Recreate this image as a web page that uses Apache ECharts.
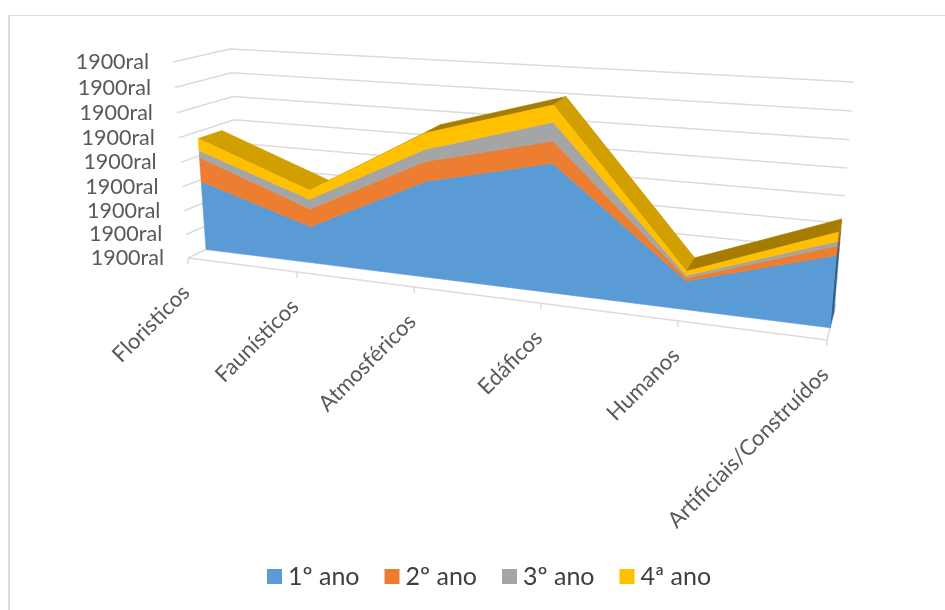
<!DOCTYPE html>
<html>
<head>
<meta charset="utf-8">
<style>html,body{margin:0;padding:0;background:#fff}#chart{width:945px;height:610px}</style>
<script src="https://cdn.jsdelivr.net/npm/echarts@6/dist/echarts.min.js"></script>
</head>
<body>
<div id="chart"></div>
<script>
// Stacked 3D-look area chart: a custom series projects grid coordinates onto a perspective box.
const categories = ['Floristicos', 'Faunísticos', 'Atmosféricos', 'Edáficos', 'Humanos', 'Artificiais/Construídos'];
const seriesNames = ['1º ano', '2º ano', '3º ano', '4ª ano'];
const ano1 = [2.92, 1.52, 3.82, 4.95, 1.08, 2.60];
const ano2 = [1.01, 0.73, 0.77, 0.81, 0.11, 0.34];
const ano3 = [0.29, 0.40, 0.47, 0.69, 0.09, 0.16];
const ano4 = [0.50, 0.36, 0.62, 0.62, 0.16, 0.32];
const valueTickLabels = ['1900ral', '1900ral', '1900ral', '1900ral', '1900ral', '1900ral', '1900ral', '1900ral', '1900ral'];

const seriesValues = [ano1, ano2, ano3, ano4];
const colors = ['#5B9BD5', '#ED7D31', '#A5A5A5', '#FFC000'];
const sideColors = ['#2F5F8A', '#A8561F', '#737373', '#A67C00'];
const surfaceFalling = '#D1A000';
const surfaceRising = '#A67C00';
const gridColor = '#DBDBDB';
const labelColor = '#595959';
const fontFamily = 'Lato, "Open Sans", sans-serif';

// Running totals per category: stacks[k][i] is the top of band k-1 and the bottom of band k.
const stacks = [categories.map(() => 0)];
seriesValues.forEach((vals, k) => stacks.push(vals.map((v, i) => stacks[k][i] + v)));

const lastCat = categories.length - 1;
const maxLevel = valueTickLabels.length - 1;

// Perspective box: the front and back planes given by corners bottom-left, bottom-right, top-right, top-left.
const frontPlane = makeHomography([188, 258], [827, 340], [848, 104], [173, 62]);
const backPlane = makeHomography([241, 233], [836, 304], [854, 82], [230, 49]);
const faceDepth = 0.34;
const rearDepth = 0.77;

function makeHomography(p0, p1, p2, p3) {
  const dx1 = p1[0] - p2[0], dx2 = p3[0] - p2[0], sx = p0[0] - p1[0] + p2[0] - p3[0];
  const dy1 = p1[1] - p2[1], dy2 = p3[1] - p2[1], sy = p0[1] - p1[1] + p2[1] - p3[1];
  const den = dx1 * dy2 - dx2 * dy1;
  const g = (sx * dy2 - dx2 * sy) / den;
  const h = (dx1 * sy - sx * dy1) / den;
  const a = p1[0] - p0[0] + g * p1[0], b = p3[0] - p0[0] + h * p3[0];
  const d = p1[1] - p0[1] + g * p1[1], e = p3[1] - p0[1] + h * p3[1];
  return (s, t) => {
    const w = g * s + h * t + 1;
    return [(a * s + b * t + p0[0]) / w, (d * s + e * t + p0[1]) / w];
  };
}

// Takes a category index and a value through the grid's scales, then onto the box at a given depth.
function projector(api) {
  const origin = api.coord([0, 0]);
  const corner = api.coord([lastCat, maxLevel]);
  return (cat, value, depth) => {
    const c = api.coord([cat, value]);
    const s = (c[0] - origin[0]) / (corner[0] - origin[0]);
    const t = (c[1] - origin[1]) / (corner[1] - origin[1]);
    const f = frontPlane(s, t), b = backPlane(s, t);
    return [f[0] + (b[0] - f[0]) * depth, f[1] + (b[1] - f[1]) * depth];
  };
}

function poly(points, color) {
  return { type: 'polygon', shape: { points }, style: { fill: color, stroke: color, lineWidth: 0.6 } };
}

function gridLine(points, width) {
  return { type: 'polyline', shape: { points }, style: { fill: 'none', stroke: gridColor, lineWidth: width || 1.5 } };
}

// Walls, floor edge, ticks and axis labels.
function renderFrame(params, api) {
  const p = projector(api);
  const children = [];
  valueTickLabels.forEach((label, level) => {
    const start = p(0, level, 0);
    children.push(gridLine([start, p(0, level, 1), p(lastCat, level, 1)]));
    children.push({
      type: 'text', x: start[0] - 24, y: start[1],
      style: { text: label, align: 'right', verticalAlign: 'middle', fill: labelColor, fontSize: 21.5, fontFamily }
    });
  });
  children.push(gridLine([p(0, 0, 0), p(lastCat, 0, 0)]));
  children.push(gridLine([p(lastCat, 0, 0), p(lastCat, 0, 1)]));
  categories.forEach((name, i) => {
    const tick = p(i, 0, 0);
    children.push(gridLine([tick, [tick[0], tick[1] + 6]]));
    children.push({
      type: 'text', x: tick[0] - 2, y: tick[1] + 31, rotation: Math.PI / 4,
      style: { text: name, align: 'right', verticalAlign: 'middle', fill: labelColor, fontSize: 22, fontFamily }
    });
  });
  return { type: 'group', children };
}

// Top surface of the stack and the right-hand end faces, drawn before the front faces.
function renderDepth(params, api) {
  const p = projector(api);
  const children = [];
  const top = stacks[seriesValues.length];
  for (let i = 0; i < lastCat; i++) {
    const color = top[i + 1] > top[i] ? surfaceRising : surfaceFalling;
    children.push(poly([p(i, top[i], faceDepth), p(i + 1, top[i + 1], faceDepth), p(i + 1, top[i + 1], rearDepth), p(i, top[i], rearDepth)], color));
  }
  seriesValues.forEach((vals, k) => {
    const lo = stacks[k][lastCat], hi = stacks[k + 1][lastCat];
    children.push(poly([p(lastCat, lo, faceDepth), p(lastCat, hi, faceDepth), p(lastCat, hi, rearDepth), p(lastCat, lo, rearDepth)], sideColors[k]));
  });
  return { type: 'group', children };
}

// One front-face band of a stacked series, as a single closed outline.
function renderBand(k) {
  return (params, api) => {
    const p = projector(api);
    const upper = categories.map((_, i) => p(i, stacks[k + 1][i], faceDepth));
    const lower = categories.map((_, i) => p(i, stacks[k][i], faceDepth)).reverse();
    return poly(upper.concat(lower), colors[k]);
  };
}

const chart = echarts.init(document.getElementById('chart'), null, { renderer: 'canvas' });
chart.setOption({
  animation: false,
  backgroundColor: '#fff',
  color: colors,
  grid: { left: 0, right: 0, top: 0, bottom: 0 },
  xAxis: { type: 'category', data: categories, boundaryGap: false, show: false },
  yAxis: { type: 'value', min: 0, max: maxLevel, interval: 1, show: false },
  legend: {
    data: seriesNames, left: 262, top: 559, itemWidth: 15, itemHeight: 15, itemGap: 25,
    icon: 'rect', textStyle: { fontSize: 25, color: '#404040', fontFamily, padding: [0, 0, 0, 1] }
  },
  graphic: [
    { type: 'line', silent: true, shape: { x1: 9, y1: 15, x2: 9, y2: 610 }, style: { stroke: gridColor, lineWidth: 2 } },
    { type: 'line', silent: true, shape: { x1: 8, y1: 15.5, x2: 945, y2: 15.5 }, style: { stroke: gridColor, lineWidth: 1 } }
  ],
  series: [
    { type: 'custom', silent: true, renderItem: renderFrame, data: [0], clip: false },
    { type: 'custom', silent: true, renderItem: renderDepth, data: [0], clip: false }
  ].concat(seriesNames.map((name, k) => ({
    type: 'custom', name, silent: true, renderItem: renderBand(k), data: [0], clip: false, itemStyle: { color: colors[k] }
  })))
});
</script>
</body>
</html>
